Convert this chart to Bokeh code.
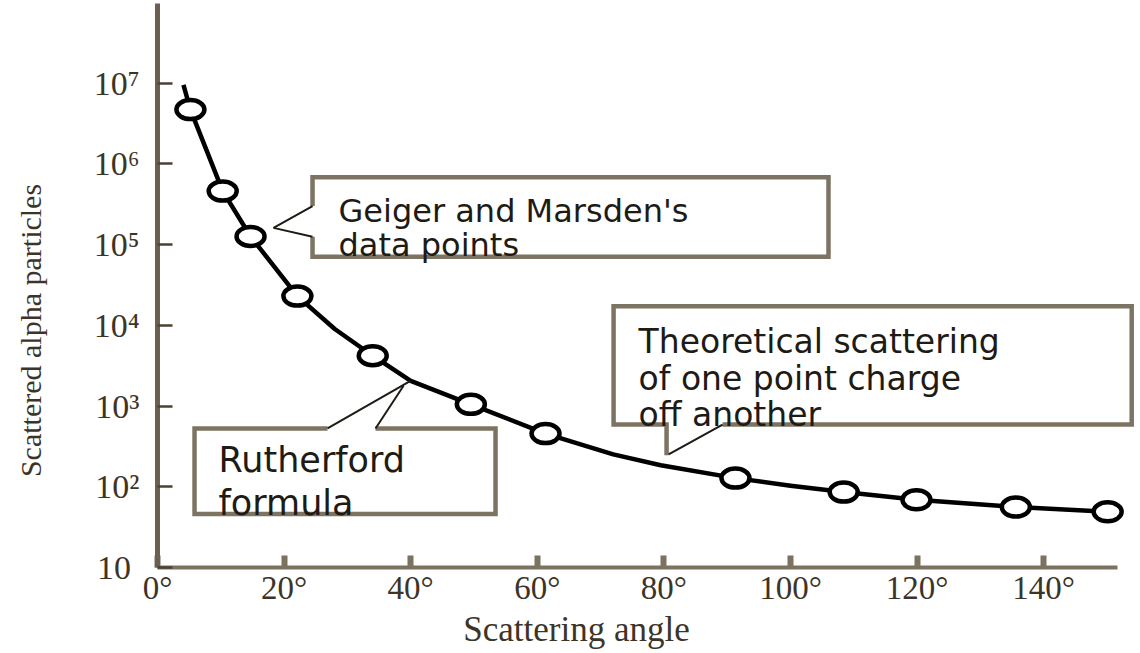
import math
from bokeh.plotting import figure
from bokeh.models import FixedTicker, Range1d
from bokeh.core.properties import value
from bokeh.embed import file_html
from bokeh.resources import INLINE

# ---- data ----
# Geiger and Marsden's data points (scattering angle in degrees, counts)
obs_angle = [5.2, 10.3, 14.7, 22.1, 34.0, 49.5, 61.3, 91.3, 108.4, 119.9, 135.6, 150.1]
obs_count = [4.7e6, 4.6e5, 1.26e5, 2.3e4, 4.2e3, 1.05e3, 456, 128, 86, 69, 56, 49]

# Rutherford formula curve
curve_angle = [4.1, 5.2, 10.3, 14.7, 22.1, 28.0, 34.0, 40.0, 49.5, 61.3, 72.0, 79.5, 91.3, 100.0, 108.4, 119.9, 135.6, 150.1]
curve_count = [9.5e6, 4.7e6, 4.6e5, 1.26e5, 2.3e4, 9.0e3, 4.2e3, 2.05e3, 1.05e3, 456, 252, 185, 128, 103, 86, 69, 56, 49]

x_ticks = [0, 20, 40, 60, 80, 100, 120, 140]
x_tick_labels = ["0°", "20°", "40°", "60°", "80°", "100°", "120°", "140°"]
y_ticks = [10, 100, 1000, 10000, 100000, 1000000, 10000000]
y_tick_labels = ["10\u2008", "10²", "10³", "10⁴", "10⁵", "10⁶", "10⁷"]

x_title = "Scattering angle"
y_title = "Scattered alpha particles"

BOX = "#7d7362"
INK = "#1e1a14"
LABEL = "#3d3428"
SERIF = "Liberation Serif"
SANS = "DejaVu Sans"

p = figure(width=1138, height=651,
           x_range=Range1d(0, 154.5), y_range=Range1d(10, 10 ** 7.986),
           y_axis_type="log", output_backend="svg", toolbar_location=None,
           min_border_left=157, min_border_right=3, min_border_top=3, min_border_bottom=80)
p.outline_line_color = None
p.grid.visible = False
p.background_fill_color = "white"
p.border_fill_color = "white"

# x axis
xa = p.xaxis[0]
xa.bounds = (0, 151.7)
xa.ticker = FixedTicker(ticks=x_ticks)
xa.major_label_overrides = dict(zip(x_ticks, x_tick_labels))
xa.minor_tick_line_color = None
xa.major_tick_in = 12
xa.major_tick_out = 0
xa.major_tick_line_width = 6
xa.major_tick_line_color = "#7b7260"
xa.axis_line_width = 4
xa.axis_line_color = "#7b7260"
xa.major_label_text_font = SERIF
xa.major_label_text_font_size = "33px"
xa.major_label_text_color = LABEL
xa.major_label_standoff = 2
# trailing spaces shift the visible title left, as in the reference
xa.axis_label = x_title + "\u2003\u2003\u2003\u2003"
xa.axis_label_text_font = SERIF
xa.axis_label_text_font_size = "35px"
xa.axis_label_text_font_style = "normal"
xa.axis_label_text_color = LABEL
xa.axis_label_standoff = 1

# y axis
ya = p.yaxis[0]
ya.ticker = FixedTicker(ticks=y_ticks)
ya.major_label_overrides = dict(zip(y_ticks, y_tick_labels))
ya.minor_tick_line_color = None
ya.major_tick_in = 15
ya.major_tick_out = 0
ya.major_tick_line_width = 2.5
ya.major_tick_line_color = "#4a4236"
ya.axis_line_width = 5
ya.axis_line_color = "#6b604f"
ya.major_label_text_font = SERIF
ya.major_label_text_font_size = "34px"
ya.major_label_text_color = LABEL
ya.major_label_standoff = 18
ya.axis_label = y_title + "\u2003\u2003\u2003"
ya.axis_label_text_font = SERIF
ya.axis_label_text_font_size = "30px"
ya.axis_label_text_font_style = "normal"
ya.axis_label_text_color = LABEL
ya.axis_label_standoff = 44

# Rutherford curve and data points
p.line(curve_angle, curve_count, line_width=4.5, line_color="black", line_join="round")
p.ellipse(x=obs_angle, y=obs_count, width=28, height=19, width_units="screen", height_units="screen",
          fill_color="white", line_color="black", line_width=4.5)

def L(v):
    return 10 ** v

# --- callout: Geiger and Marsden's data points ---
gx0, gx1, gtip = 24.49, 106.0, 18.33
p.line([gx0, gx0, gx1, gx1, gx0, gx0],
       [L(5.477), L(5.834), L(5.834), L(4.850), L(4.850), L(5.096)],
       line_color=BOX, line_width=4.5, line_join="miter")
p.line([gx0, gtip, gx0], [L(5.477), L(5.207), L(5.096)], line_color=INK, line_width=2)
p.text(x=[28.6, 28.6], y=[L(5.42), L(5.0)], text=["Geiger and Marsden's", "data points"],
       text_font=value(SANS), text_font_size="32px", text_color=INK,
       text_align="left", text_baseline="alphabetic")

# --- callout: Rutherford formula ---
rx0, rx1 = 5.85, 53.4
p.line([26.86, rx0, rx0, rx1, rx1, 34.44],
       [L(2.722), L(2.722), L(1.664), L(1.664), L(2.722), L(2.722)],
       line_color=BOX, line_width=4.5, line_join="miter")
p.multi_line([[26.86, 39.97], [34.44, 38.87]], [[L(2.722), L(3.312)], [L(2.722), L(3.251)]],
             line_color=INK, line_width=2)
p.text(x=[9.64, 9.64], y=[L(2.328), L(1.80)], text=["Rutherford", "formula"],
       text_font=value(SANS), text_font_size="35px", text_color=INK,
       text_align="left", text_baseline="alphabetic")

# --- callout: theoretical scattering ---
tx0, tx1 = 72.05, 153.9
p.line([80.42, 80.42, tx0, tx0, tx1, tx1, 89.27],
       [L(2.390), L(2.771), L(2.771), L(4.235), L(4.235), L(2.771), L(2.771)],
       line_color=BOX, line_width=4.5, line_join="miter")
p.line([80.74, 89.27], [L(2.402), L(2.771)], line_color=INK, line_width=2)
p.text(x=[76.0, 76.0, 76.0], y=[L(3.804), L(3.337), L(2.894)],
       text=["Theoretical scattering", "of one point charge", "off another"],
       text_font=value(SANS), text_font_size="33px", text_color=INK,
       text_align="left", text_baseline="alphabetic")

open("out.html", "w").write(file_html(p, INLINE))
